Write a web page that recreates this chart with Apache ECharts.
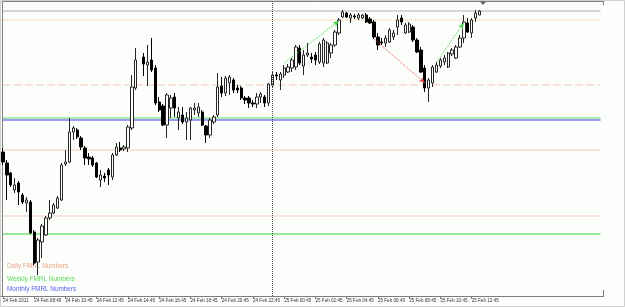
<!DOCTYPE html>
<html><head><meta charset="utf-8">
<script src="https://cdn.jsdelivr.net/npm/echarts@6/dist/echarts.min.js"></script>
<style>html,body{margin:0;padding:0;background:#fbfefb}#c{width:625px;height:307px}</style>
</head><body><div id="c"></div>
<script>
// ---- data ----
const tickLabels = ['24 Feb 2011','24 Feb 08:45','24 Feb 10:45','24 Feb 12:45','24 Feb 14:45','24 Feb 16:45','24 Feb 18:45','24 Feb 20:45','24 Feb 22:45','25 Feb 00:45','25 Feb 02:45','25 Feb 04:45','25 Feb 06:45','25 Feb 08:45','25 Feb 10:45','25 Feb 12:45'];
const barsPerLabel = 8;
const slotCount = 154;
const opens = [1.37740,1.37685,1.37635,1.37550,1.37585,1.37525,1.37485,1.37490,1.37340,1.37190,1.37290,1.37325,1.37410,1.37435,1.37460,1.37500,1.37680,1.37690,1.37840,1.37850,1.37810,1.37760,1.37715,1.37710,1.37685,1.37600,1.37620,1.37650,1.37615,1.37725,1.37760,1.37755,1.37760,1.37860,1.38060,null,1.38215,1.38175,1.38200,1.38160,1.37990,1.37970,1.37875,1.37960,1.38015,1.37910,1.37925,1.37890,1.37900,1.37950,1.37935,1.37940,1.37870,1.37825,1.37890,1.37925,1.38070,1.38035,1.38085,1.38100,1.38060,1.38060,1.38010,1.38010,1.37985,1.37980,1.38015,1.38015,1.37985,1.38075,1.38125,1.38100,1.38125,1.38140,1.38160,1.38165,1.38260,1.38170,1.38225,1.38215,1.38225,1.38190,1.38185,1.38185,1.38235,1.38275,1.38335,1.38415,1.38435,1.38410,1.38420,1.38410,1.38410,1.38425,1.38405,1.38390,1.38315,1.38290,1.38285,1.38290,1.38315,1.38365,1.38410,1.38335,1.38340,1.38365,1.38300,1.38250,1.38160,1.38060,1.38085,1.38140,1.38170,1.38190,1.38165,1.38230,1.38210,1.38265,1.38310,1.38385,1.38335,1.38410,1.38425];
const closes = [1.37690,1.37625,1.37575,1.37575,1.37540,1.37490,1.37500,1.37335,1.37185,1.37300,1.37370,1.37410,1.37435,1.37475,1.37510,1.37675,1.37690,1.37840,1.37860,1.37815,1.37765,1.37710,1.37705,1.37675,1.37615,1.37625,1.37610,1.37625,1.37725,1.37765,1.37750,1.37765,1.37865,1.38065,1.38200,null,1.38180,1.38190,1.38150,1.37985,1.37950,1.37875,1.38025,1.38010,1.37960,1.37940,1.37890,1.37910,1.37960,1.37960,1.37965,1.37875,1.37825,1.37900,1.37915,1.38065,1.38035,1.38110,1.38115,1.38050,1.38050,1.38010,1.38000,1.37985,1.37980,1.38015,1.38030,1.37985,1.38080,1.38125,1.38120,1.38130,1.38160,1.38165,1.38200,1.38265,1.38185,1.38225,1.38235,1.38205,1.38200,1.38280,1.38300,1.38285,1.38275,1.38340,1.38400,1.38440,1.38415,1.38425,1.38415,1.38425,1.38425,1.38390,1.38385,1.38315,1.38275,1.38285,1.38310,1.38350,1.38335,1.38400,1.38390,1.38375,1.38380,1.38300,1.38240,1.38140,1.38060,1.38100,1.38165,1.38175,1.38200,1.38210,1.38235,1.38250,1.38265,1.38310,1.38390,1.38340,1.38400,1.38435,1.38445];
const lows = [1.37675,1.37500,1.37565,1.37535,1.37475,1.37480,1.37440,1.37330,1.37175,1.37125,1.37210,1.37320,1.37400,1.37430,1.37455,1.37495,1.37670,1.37685,1.37800,1.37805,1.37750,1.37675,1.37675,1.37665,1.37610,1.37565,1.37590,1.37575,1.37600,1.37720,1.37740,1.37745,1.37740,1.37850,1.38050,null,1.38120,1.38070,1.38140,1.37975,1.37940,1.37870,1.37810,1.37910,1.37915,1.37850,1.37880,1.37800,1.37800,1.37925,1.37915,1.37870,1.37785,1.37810,1.37880,1.37915,1.38015,1.38020,1.38025,1.38035,1.38035,1.38000,1.37980,1.37960,1.37965,1.37960,1.37985,1.37965,1.37970,1.38065,1.38100,1.38050,1.38110,1.38135,1.38140,1.38150,1.38175,1.38125,1.38215,1.38185,1.38175,1.38180,1.38165,1.38180,1.38210,1.38265,1.38325,1.38410,1.38410,1.38385,1.38405,1.38400,1.38405,1.38385,1.38380,1.38305,1.38250,1.38275,1.38265,1.38285,1.38300,1.38325,1.38375,1.38330,1.38335,1.38290,1.38235,1.38135,1.38040,1.37990,1.38065,1.38135,1.38160,1.38175,1.38160,1.38220,1.38205,1.38260,1.38285,1.38335,1.38310,1.38390,1.38425];
const highs = [1.37760,1.37700,1.37640,1.37610,1.37595,1.37535,1.37515,1.37500,1.37350,1.37310,1.37380,1.37420,1.37500,1.37485,1.37520,1.37685,1.37750,1.37910,1.37870,1.37860,1.37820,1.37770,1.37735,1.37720,1.37690,1.37650,1.37635,1.37660,1.37735,1.37785,1.37790,1.37775,1.37875,1.38125,1.38260,null,1.38235,1.38275,1.38310,1.38175,1.38015,1.37980,1.38035,1.38025,1.38035,1.37965,1.37965,1.37940,1.37965,1.37985,1.37985,1.37950,1.37875,1.37910,1.37925,1.38135,1.38115,1.38120,1.38125,1.38110,1.38075,1.38070,1.38020,1.38020,1.38000,1.38035,1.38040,1.38025,1.38085,1.38140,1.38140,1.38140,1.38175,1.38180,1.38210,1.38275,1.38275,1.38250,1.38285,1.38235,1.38240,1.38290,1.38310,1.38295,1.38285,1.38350,1.38410,1.38450,1.38440,1.38435,1.38430,1.38435,1.38430,1.38435,1.38415,1.38400,1.38335,1.38310,1.38325,1.38360,1.38350,1.38425,1.38425,1.38385,1.38390,1.38375,1.38310,1.38265,1.38175,1.38110,1.38175,1.38190,1.38210,1.38225,1.38240,1.38260,1.38275,1.38325,1.38425,1.38410,1.38410,1.38450,1.38450];
const levelValues = [1.38445, 1.38400, 1.38075, 1.37910, 1.37900, 1.37750, 1.37420, 1.37330];
const trendStarts = [[72, 1.38185], [95, 1.38305], [111, 1.38190]];
const trendEnds = [[86, 1.38395], [108, 1.38085], [118, 1.38385]];
const separatorIndex = 69;
const legendTexts = ['Daily FMRL Numbers', 'Weekly FMRL Numbers', 'Monthly FMRL Numbers'];

// ---- styles ----
const levelStyles = [
  {color:'#d6d6d6', width:2, type:'solid'},
  {color:'#f2bc80', width:1, type:'dotted'},
  {color:'#f8c8b4', width:1.2, type:[8,3]},
  {color:'#90e890', width:1.5, type:'solid'},
  {color:'#9c9cf4', width:2, type:'solid'},
  {color:'#f6cbb9', width:1, type:'solid'},
  {color:'#f6cbb9', width:1, type:'solid'},
  {color:'#78e078', width:1.5, type:'solid'}
];
const trendStyles = [
  {color:'#3fd43f', width:1, type:'dotted'},
  {color:'#f05050', width:1, type:'dotted'},
  {color:'#3fd43f', width:1, type:'dotted'}
];
const legendColors = ['#e8a584', '#5cdc5c', '#5d5df0'];
const legendY = [266, 279, 289];

const cats = [];
for (let i = 0; i < slotCount; i++) cats.push(String(i));
const candles = cats.map((c, i) => (i < opens.length && opens[i] != null) ? [opens[i], closes[i], lows[i], highs[i]] : '-');
const showTick = (idx) => idx % barsPerLabel === 0 && idx / barsPerLabel < tickLabels.length;

const levelSeries = levelValues.map((v, k) => ({
  type: 'line', data: cats.map(() => v), symbol: 'none', silent: true, z: 1,
  lineStyle: levelStyles[k], emphasis: {disabled: true}
}));

const mlData = [];
mlData.push({xAxis: separatorIndex, lineStyle: {color:'#505050', width:1, type:'dotted'}, symbol:'none'});
trendStarts.forEach((s, k) => mlData.push([
  {coord: s, symbol:'none', lineStyle: trendStyles[k]},
  {coord: trendEnds[k], symbol:'arrow', symbolSize:[4,6]}
]));

const chart = echarts.init(document.getElementById('c'), null, {renderer:'canvas'});
chart.setOption({
  animation: false,
  backgroundColor: '#fbfefb',
  grid: {left: 1, top: 2, width: 601.5, height: 294, containLabel: false},
  xAxis: {
    type: 'category', data: cats, boundaryGap: true,
    axisLine: {lineStyle: {color: '#7c7c7c', width: 1}},
    axisTick: {show: true, alignWithLabel: true, interval: (i) => showTick(i), length: 3, lineStyle: {color: '#7c7c7c'}},
    axisLabel: {interval: (i) => showTick(i), formatter: (v, i) => tickLabels[i / barsPerLabel] || '',
      align: 'left', margin: 2, fontSize: 4.6, color: '#333', fontFamily: 'Liberation Sans'},
    splitLine: {show: false}
  },
  yAxis: {type: 'value', min: 1.3702, max: 1.3849, show: false, splitLine: {show: false}},
  series: [
    ...levelSeries,
    {
      type: 'candlestick', data: candles, barWidth: 2.8, z: 3,
      itemStyle: {color: '#ffffff', color0: '#000000', borderColor: '#262626', borderColor0: '#000000', borderWidth: 1},
      markLine: {silent: true, animation: false, symbol: ['none','none'], label: {show: false}, emphasis: {disabled: true}, data: mlData}
    }
  ],
  graphic: [
    {type:'rect', silent:true, shape:{x:0.5,y:0.5,width:624,height:306}, style:{fill:null, stroke:'#cfcfcf', lineWidth:1}},
    {type:'line', silent:true, shape:{x1:2.5,y1:1.5,x2:2.5,y2:297}, style:{stroke:'#808080', lineWidth:1}},
    {type:'line', silent:true, shape:{x1:2,y1:1.5,x2:604,y2:1.5}, style:{stroke:'#808080', lineWidth:1}},
    {type:'line', silent:true, shape:{x1:603.5,y1:1.5,x2:603.5,y2:5}, style:{stroke:'#808080', lineWidth:1}},
    {type:'line', silent:true, shape:{x1:602,y1:296.5,x2:604,y2:296.5}, style:{stroke:'#7c7c7c', lineWidth:1}},
    {type:'line', silent:true, shape:{x1:603.5,y1:290,x2:603.5,y2:297}, style:{stroke:'#7c7c7c', lineWidth:1}},
    {type:'polygon', silent:true, shape:{points:[[480,1.5],[486,1.5],[483,5]]}, style:{fill:'#606060'}},
    ...legendTexts.map((t, k) => ({type:'text', silent:true, x:7, y:legendY[k],
      style:{text:t, fill:legendColors[k], fontSize:6.4, fontFamily:'Liberation Sans', verticalAlign:'middle'}}))
  ]
});
</script></body></html>
